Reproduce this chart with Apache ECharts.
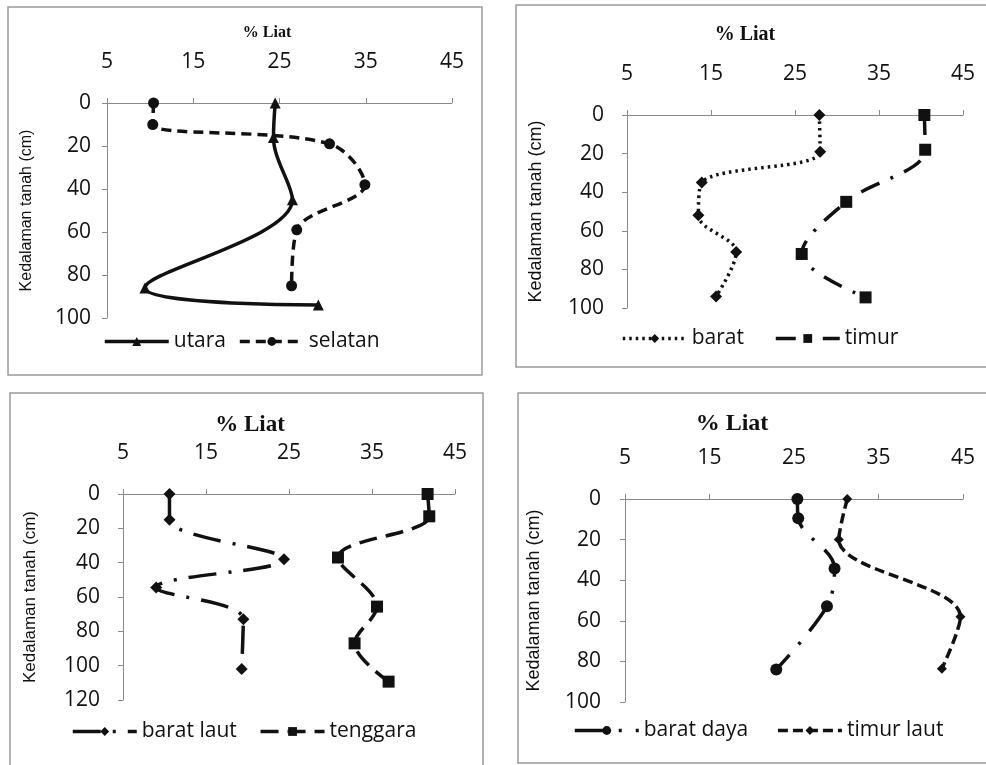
<!DOCTYPE html>
<html>
<head>
<meta charset="utf-8">
<script src="https://cdn.jsdelivr.net/npm/echarts@6/dist/echarts.min.js"></script>
<style>
html,body{margin:0;padding:0;background:#fff;}
#c{width:986px;height:765px;}
</style>
</head>
<body>
<div id="c"></div>
<script>
// ---- data ----
const xTicks = [5, 15, 25, 35, 45];
const yTicksA = [0, 20, 40, 60, 80, 100];
const yTicksC = [0, 20, 40, 60, 80, 100, 120];

// panel 1
const utaraX = [24.5, 24.3, 26.5, 9.4, 29.5];
const utaraDepth = [0, 16, 45, 86, 94];
const selatanX = [10.4, 10.3, 30.8, 34.9, 27.0, 26.4];
const selatanDepth = [0, 10, 19, 38, 59, 85];
// panel 2
const baratX = [27.9, 28.0, 13.9, 13.5, 18.0, 15.6];
const baratDepth = [0, 19, 35, 52, 71, 94];
const timurX = [40.4, 40.5, 31.1, 25.8, 33.4];
const timurDepth = [0, 18, 45, 72, 94.5];
// panel 3
const baratLautX = [10.6, 10.6, 24.4, 9.0, 19.5, 19.3];
const baratLautDepth = [0, 15, 38, 54.5, 73, 102];
const tenggaraX = [41.7, 41.9, 30.9, 35.6, 32.9, 37.0];
const tenggaraDepth = [0, 13, 37, 65.6, 87, 109.3];
// panel 4
const baratDayaX = [25.4, 25.5, 29.8, 28.9, 22.9];
const baratDayaDepth = [0, 9.5, 34.2, 52.8, 84];
const timurLautX = [31.3, 30.3, 44.7, 42.5];
const timurLautDepth = [0, 20, 58, 83.6];

const titleText = '% Liat';
const yName = 'Kedalaman tanah (cm)';

function pts(xs, ys) { return xs.map((v, i) => [v, ys[i]]); }

const TICK_FONT = "'Open Sans', 'Liberation Sans', sans-serif";
const NAME_FONT = "'Liberation Sans Narrow', 'Liberation Sans', sans-serif";
const INK = '#111111';
const AX = '#8a8a8a';

const panels = [
  { grid: {left: 107, top: 103, width: 345, height: 215}, ymax: 100, yticks: yTicksA,
    title: {x: 262, y: 28, size: 16}, ylMargin: 16, nameGap: 72, nameSize: 16,
    legend: {left: 98, top: 326, gap: 12} },
  { grid: {left: 627, top: 115, width: 336, height: 193}, ymax: 100, yticks: yTicksA,
    title: {x: 740, y: 30, size: 20}, ylMargin: 23, nameGap: 82, nameSize: 18,
    legend: {left: 616, top: 323, gap: 30} },
  { grid: {left: 123, top: 494, width: 332, height: 206}, ymax: 120, yticks: yTicksC,
    title: {x: 245, y: 420, size: 23}, ylMargin: 23, nameGap: 84, nameSize: 17,
    legend: {left: 66, top: 716, gap: 22} },
  { grid: {left: 625, top: 499, width: 338, height: 203}, ymax: 100, yticks: yTicksA,
    title: {x: 727, y: 419, size: 24}, ylMargin: 24, nameGap: 82, nameSize: 18,
    legend: {left: 568, top: 715, gap: 28} }
];

const seriesDefs = [
  { name: 'utara', p: 0, data: pts(utaraX, utaraDepth), type: 'solid', symbol: 'triangle', size: 11 },
  { name: 'selatan', p: 0, data: pts(selatanX, selatanDepth), type: [10, 6], symbol: 'circle', size: 11 },
  { name: 'barat', p: 1, data: pts(baratX, baratDepth), type: [2.5, 4], symbol: 'diamond', size: 12 },
  { name: 'timur', p: 1, data: pts(timurX, timurDepth), type: [20, 12, 3, 12], symbol: 'rect', size: 12 },
  { name: 'barat laut', p: 2, data: pts(baratLautX, baratLautDepth), type: [28, 12, 3, 12], symbol: 'diamond', size: 12 },
  { name: 'tenggara', p: 2, data: pts(tenggaraX, tenggaraDepth), type: [18, 9], symbol: 'rect', size: 12 },
  { name: 'barat daya', p: 3, data: pts(baratDayaX, baratDayaDepth), type: [30, 14, 3, 14], symbol: 'circle', size: 12 },
  { name: 'timur laut', p: 3, data: pts(timurLautX, timurLautDepth), type: [10, 5], symbol: 'diamond', size: 10 }
];

const grids = [], xAxes = [], yAxes = [], titles = [], legends = [];
panels.forEach((p, i) => {
  grids.push(Object.assign({containLabel: false}, p.grid));
  xAxes.push({
    type: 'value', gridIndex: i, position: 'top', min: 5, max: 45, interval: 10,
    axisLine: {show: true, lineStyle: {color: AX, width: 1}},
    axisTick: {show: true, inside: false, length: 5, lineStyle: {color: AX}},
    axisLabel: {margin: 30, color: INK, fontSize: 21, fontFamily: TICK_FONT},
    splitLine: {show: false}
  });
  yAxes.push({
    type: 'value', gridIndex: i, inverse: true, min: 0, max: p.ymax, interval: 20,
    name: yName, nameLocation: 'middle', nameGap: p.nameGap, nameRotate: 90,
    nameTextStyle: {color: INK, fontSize: p.nameSize, fontFamily: NAME_FONT},
    axisLine: {show: true, onZero: false, lineStyle: {color: AX, width: 1}},
    axisTick: {show: true, length: 5, lineStyle: {color: AX}},
    axisLabel: {margin: p.ylMargin, color: INK, fontSize: 21, fontFamily: TICK_FONT},
    splitLine: {show: false}
  });
  titles.push({
    text: titleText, left: p.title.x, top: p.title.y, textAlign: 'center', textVerticalAlign: 'middle',
    textStyle: {fontFamily: "'Liberation Serif', 'DejaVu Serif', serif", fontWeight: 'bold', fontSize: p.title.size, color: INK}
  });
  legends.push({
    data: seriesDefs.filter(s => s.p === i).map(s => s.name),
    left: p.legend.left, top: p.legend.top, orient: 'horizontal',
    itemWidth: 64, itemHeight: 11, itemGap: p.legend.gap,
    lineStyle: {width: 3.5},
    textStyle: {fontSize: 21, fontFamily: TICK_FONT, color: INK, padding: [0, 0, 0, 0]},
    selectedMode: false
  });
});

const series = seriesDefs.map(s => ({
  name: s.name, type: 'line', xAxisIndex: s.p, yAxisIndex: s.p,
  data: s.data, smooth: 0.35,
  symbol: s.symbol, symbolSize: s.size, showSymbol: true,
  lineStyle: {color: INK, width: 3.5, type: s.type, cap: 'butt'},
  itemStyle: {color: INK, borderWidth: 0},
  emphasis: {disabled: true},
  z: 3
}));

const frames = [
  {x: 8, y: 7, w: 474, h: 368},
  {x: 516, y: 5, w: 480, h: 362},
  {x: 10, y: 393, w: 473, h: 380},
  {x: 518, y: 393, w: 480, h: 370}
];

const chart = echarts.init(document.getElementById('c'), null, {renderer: 'canvas'});
chart.setOption({
  backgroundColor: '#fff',
  animation: false,
  title: titles,
  legend: legends,
  grid: grids,
  xAxis: xAxes,
  yAxis: yAxes,
  series: series,
  graphic: frames.map(f => ({
    type: 'rect', shape: {x: f.x, y: f.y, width: f.w, height: f.h},
    style: {fill: 'none', stroke: '#9a9a9a', lineWidth: 1.5}, silent: true, z: -1
  }))
});
</script>
</body>
</html>
